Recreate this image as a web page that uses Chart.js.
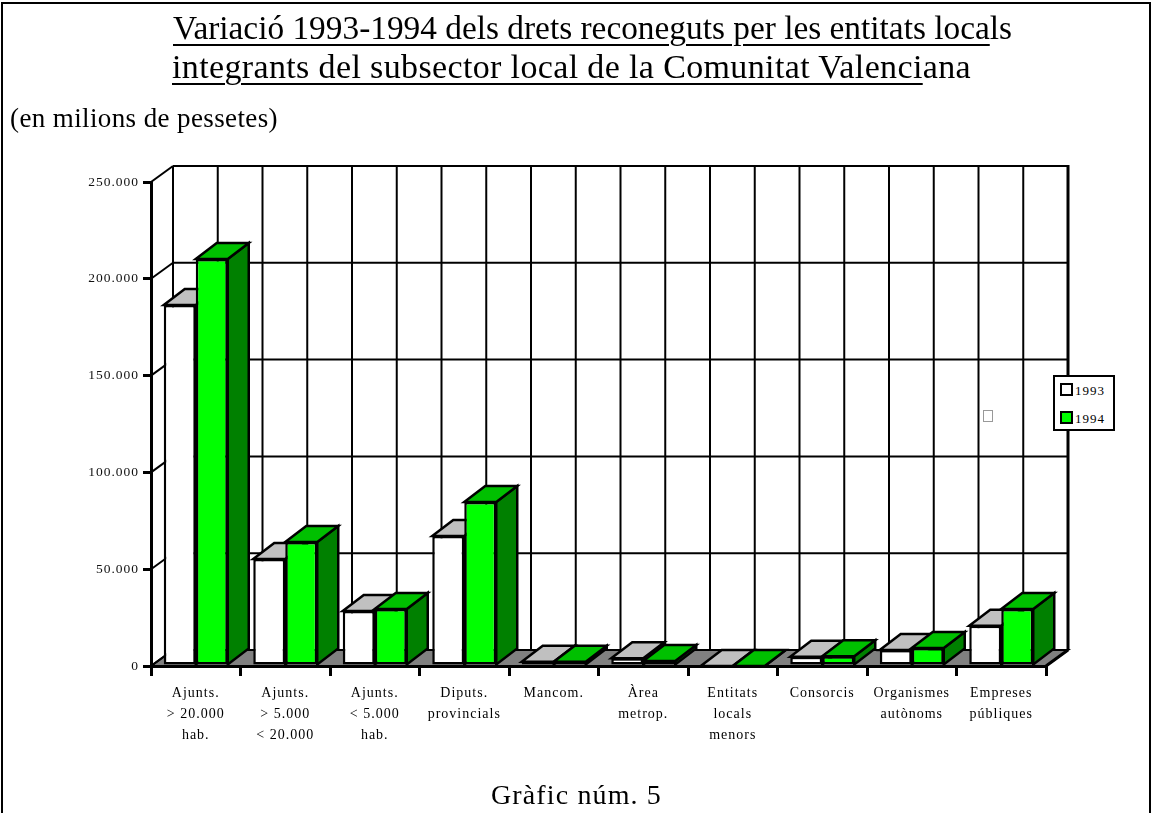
<!DOCTYPE html>
<html>
<head>
<meta charset="utf-8">
<script src="https://cdn.jsdelivr.net/npm/chart.js@4"></script>
<style>
  body { margin: 0; background: #fff; width: 1152px; height: 813px; overflow: hidden; position: relative;
         font-family: 'Liberation Serif', 'Times New Roman', serif; color: #000; }
  #marc { position: absolute; left: 1px; top: 2px; width: 1146px; height: 830px; border: 2px solid #000; border-bottom: none; }
  canvas { position: absolute; left: 0; top: 0; }
  .txt { position: absolute; white-space: nowrap; line-height: 1; transform-origin: left top; }
  .sub { text-decoration: underline; text-decoration-thickness: 2px; text-underline-offset: 5px; }
  #llegenda { position: absolute; left: 1053px; top: 375px; width: 58px; height: 52px; border: 2px solid #000;
              background: #fff; font-size: 13px; letter-spacing: 1px; }
  #llegenda div { position: absolute; left: 5px; height: 14px; line-height: 14px; }
  #llegenda span { display: inline-block; width: 9px; height: 9px; border: 2px solid #000; vertical-align: -1px; margin-right: 2px; }
  #caixa { position: absolute; left: 983px; top: 410px; width: 8px; height: 10px; border: 1px solid #999; }
</style>
</head>
<body>
<div id="marc"></div>
<canvas id="grafic" width="1152" height="813"></canvas>

<div class="txt" style="left:173px;top:11px;font-size:34px" data-w="839"><span class="sub">Variació 1993-1994 dels drets reconeguts per les entitats loca</span>ls</div>
<div class="txt" style="left:172px;top:50px;font-size:34px" data-w="799"><span class="sub">integrants del subsector local de la Comunitat Valenci</span>ana</div>
<div class="txt" style="left:10px;top:105px;font-size:27px" data-w="268">(en milions de pessetes)</div>
<div class="txt" style="left:491px;top:781px;font-size:28px" data-w="171">Gràfic núm. 5</div>
<div id="caixa"></div>
<div id="llegenda"></div>

<script>
// dades (milions de pessetes)
const categories = [
  ['Ajunts.', '> 20.000', 'hab.'],
  ['Ajunts.', '> 5.000', '< 20.000'],
  ['Ajunts.', '< 5.000', 'hab.'],
  ['Diputs.', 'provincials'],
  ['Mancom.'],
  ['Àrea', 'metrop.'],
  ['Entitats', 'locals', 'menors'],
  ['Consorcis'],
  ['Organismes', 'autònoms'],
  ['Empreses', 'públiques']
];
const anys = ['1993', '1994'];
const drets1993 = [186500, 55300, 28400, 67200, 2200, 4000, 0, 4800, 8300, 20800];
const drets1994 = [210200, 64100, 29500, 84700, 2200, 2600, 0, 5000, 9300, 29400];
const yTicks = [0, 50000, 100000, 150000, 200000, 250000];

const colors = [
  { front: '#ffffff', top: '#c0c0c0', side: '#808080' },
  { front: '#00ff00', top: '#00c000', side: '#008000' }
];

// profunditat 3D
const DX = 22, DY = -16, BX = 21;

function puntsMil(v) {
  return String(v).replace(/\B(?=(\d{3})+(?!\d))/g, '.');
}

function poligon(ctx, pts, fill) {
  ctx.beginPath();
  ctx.moveTo(pts[0][0], pts[0][1]);
  for (let k = 1; k < pts.length; k++) ctx.lineTo(pts[k][0], pts[k][1]);
  ctx.closePath();
  if (fill) { ctx.fillStyle = fill; ctx.fill(); }
  ctx.stroke();
}

function linia(ctx, x1, y1, x2, y2) {
  ctx.beginPath();
  ctx.moveTo(x1, y1);
  ctx.lineTo(x2, y2);
  ctx.stroke();
}

const cubs = {
  id: 'cubs',
  beforeDraw(chart) {
    chart.ctx.letterSpacing = '1px';
  },
  beforeDatasetsDraw(chart) {
    const { ctx, chartArea: a, scales: { x, y } } = chart;
    ctx.save();
    ctx.letterSpacing = '0px';
    ctx.strokeStyle = '#000';
    ctx.lineWidth = 2;
    ctx.lineJoin = 'miter';

    // terra
    poligon(ctx, [[a.left, a.bottom], [a.right, a.bottom], [a.right + DX, a.bottom + DY], [a.left + DX, a.bottom + DY]], '#808080');

    // paret del fons
    yTicks.forEach(v => {
      const p = y.getPixelForValue(v);
      linia(ctx, a.left, p, a.left + DX, p + DY);
      linia(ctx, a.left + DX, p + DY, a.right + DX, p + DY);
    });
    const half = (x.getPixelForValue(1) - x.getPixelForValue(0)) / 2;
    for (let i = 0; i < categories.length; i++) {
      const c = x.getPixelForValue(i);
      linia(ctx, c - half + DX, a.top + DY, c - half + DX, a.bottom + DY);
      linia(ctx, c + DX, a.top + DY, c + DX, a.bottom + DY);
    }
    ctx.lineWidth = 3;
    linia(ctx, a.right + DX, a.top + DY - 1, a.right + DX, a.bottom + DY);
    linia(ctx, a.right, a.bottom, a.right + DX, a.bottom + DY);

    // cares de dalt i laterals de les barres
    ctx.lineWidth = 2.5;
    for (let i = 0; i < categories.length; i++) {
      chart.data.datasets.forEach((ds, d) => {
        const el = chart.getDatasetMeta(d).data[i];
        const p = el.getProps(['x', 'y', 'base', 'width'], true);
        const l = p.x - p.width / 2, r = p.x + p.width / 2;
        poligon(ctx, [[r, p.y], [r + BX, p.y + DY], [r + BX, p.base + DY], [r, p.base]], colors[d].side);
        poligon(ctx, [[l, p.y], [l + BX, p.y + DY], [r + BX, p.y + DY], [r, p.y]], colors[d].top);
      });
    }
    ctx.restore();
  }
};

new Chart(document.getElementById('grafic'), {
  type: 'bar',
  data: {
    labels: categories,
    datasets: [
      { label: anys[0], data: drets1993, backgroundColor: colors[0].front },
      { label: anys[1], data: drets1994, backgroundColor: colors[1].front }
    ]
  },
  options: {
    responsive: false,
    animation: false,
    layout: { padding: { top: 182, right: 106, bottom: 0, left: 0 } },
    datasets: {
      bar: { categoryPercentage: 0.715, barPercentage: 1, borderColor: '#000', borderWidth: 2.5, borderSkipped: false }
    },
    plugins: { legend: { display: false }, tooltip: { enabled: false } },
    scales: {
      x: {
        z: 1,
        afterFit: s => { s.height = 147; },
        grid: { drawOnChartArea: false, drawTicks: true, tickLength: 10, color: '#000', lineWidth: 3 },
        border: { display: true, color: '#000', width: 3 },
        ticks: {
          autoSkip: false, maxRotation: 0, padding: 7, color: '#000',
          font: { family: "'Liberation Serif', 'Times New Roman', serif", size: 14, lineHeight: 1.5 }
        }
      },
      y: {
        z: 1,
        min: 0,
        max: 250000,
        afterFit: s => { s.width = 151; },
        afterBuildTicks: s => { s.ticks = yTicks.map(v => ({ value: v })); },
        grid: { drawOnChartArea: false, drawTicks: true, tickLength: 8, color: '#000', lineWidth: 3 },
        border: { display: true, color: '#000', width: 3 },
        ticks: {
          padding: 4, color: '#111',
          font: { family: "'Liberation Serif', 'Times New Roman', serif", size: 13.5 },
          callback: v => puntsMil(v)
        }
      }
    }
  },
  plugins: [cubs]
});

// llegenda
const lleg = document.getElementById('llegenda');
anys.forEach((a, i) => {
  const row = document.createElement('div');
  row.style.top = (6 + i * 28) + 'px';
  row.innerHTML = `<span style="background:${colors[i].front}"></span>${a}`;
  lleg.appendChild(row);
});

// ajust de l'amplada dels textos
document.querySelectorAll('.txt').forEach(el => {
  const w = +el.dataset.w;
  const nat = el.getBoundingClientRect().width;
  if (nat < w) {
    el.style.letterSpacing = ((w - nat) / el.textContent.length) + 'px';
  } else {
    el.style.transform = `scaleX(${w / nat})`;
  }
});
</script>
</body>
</html>
